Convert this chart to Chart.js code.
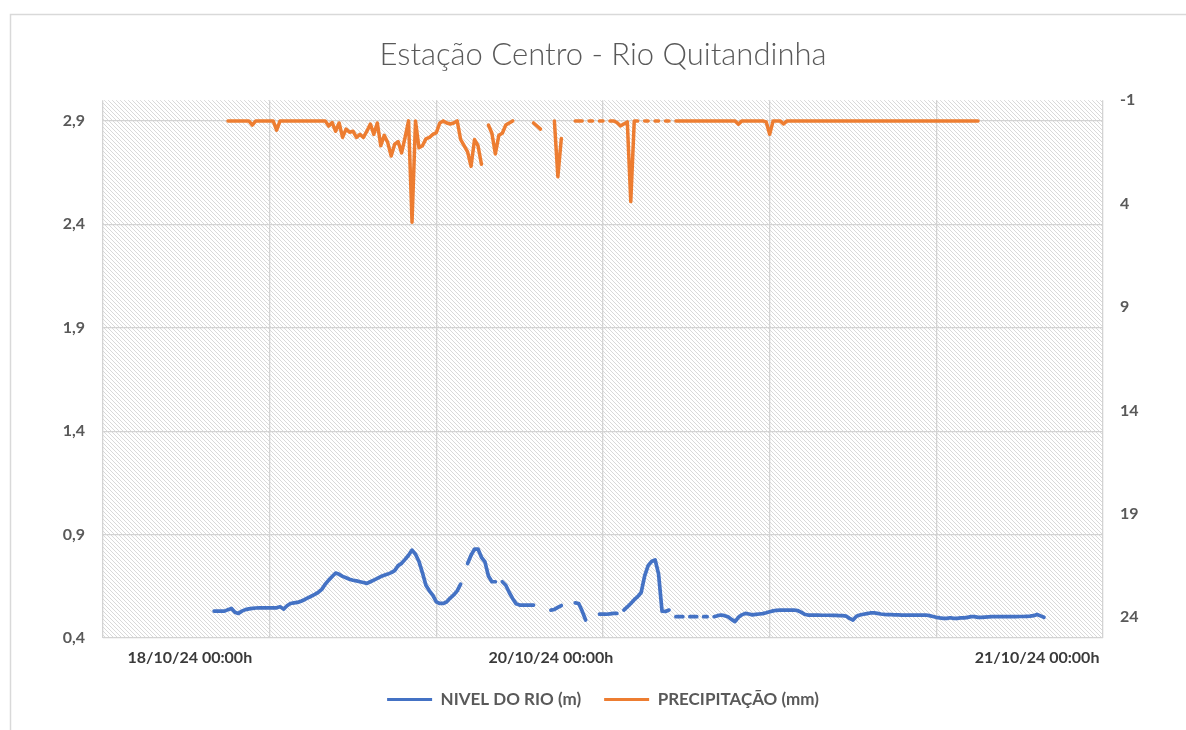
<!DOCTYPE html>
<html><head><meta charset="utf-8">
<script src="https://cdn.jsdelivr.net/npm/chart.js@4.4.1/dist/chart.umd.min.js"></script>
<style>html,body{margin:0;padding:0;background:#fff;}</style>
</head><body>
<canvas id="c" width="1186" height="730"></canvas>
<script>
// ---- data ----
const titleText = 'Estação Centro - Rio Quitandinha';
const seriesNames = ['NIVEL DO RIO (m)', 'PRECIPITAÇÃO (mm)'];
const xTickPositions = [25, 129, 269];
const xTickLabels = ['18/10/24 00:00h', '20/10/24 00:00h', '21/10/24 00:00h'];
const xGridPositions = [0, 48, 96, 144, 192, 240, 288];
const levelTicks = [0.4, 0.9, 1.4, 1.9, 2.4, 2.9];
const rainTicks = [-1, 4, 9, 14, 19, 24];

const levelStart = 32;
const level = [
  0.530,0.530,0.530,0.530,0.537,0.543,0.525,0.519,0.530,0.537,
  0.541,0.543,0.545,0.546,0.546,0.546,0.546,0.546,0.546,0.551,
  0.540,0.556,0.567,0.570,0.572,0.578,0.585,0.594,0.602,0.611,
  0.621,0.635,0.660,0.680,0.697,0.714,0.708,0.698,0.691,0.684,
  0.679,0.676,0.672,0.668,0.664,0.672,0.680,0.688,0.697,0.703,
  0.709,0.716,0.726,0.750,0.761,0.780,0.800,0.825,0.805,0.770,
  0.715,0.655,0.628,0.606,0.575,0.567,0.567,0.575,0.593,0.608,
  0.628,0.660,null,0.760,0.800,0.830,0.830,0.790,0.768,0.700,
  0.672,0.672,null,0.672,0.655,0.620,0.590,0.565,0.559,0.559,
  0.559,0.559,0.559,null,null,null,null,0.535,0.538,0.548,
  0.557,null,null,null,0.570,0.567,0.530,0.487,null,null,
  null,0.515,0.515,0.515,0.517,0.519,0.519,null,0.535,0.550,
  0.567,0.585,0.600,0.620,0.700,0.750,0.770,0.778,0.710,0.530,
  0.528,0.535,null,0.503,0.503,0.503,null,0.503,0.503,0.503,
  null,0.503,0.503,null,0.503,0.508,0.511,0.508,0.503,0.490,
  0.479,0.500,0.512,0.519,0.516,0.512,0.514,0.516,0.518,0.522,
  0.527,0.531,0.534,0.535,0.535,0.535,0.535,0.535,0.533,0.525,
  0.515,0.511,0.511,0.511,0.511,0.510,0.510,0.510,0.509,0.509,
  0.508,0.508,0.506,0.495,0.487,0.505,0.511,0.515,0.518,0.521,
  0.522,0.519,0.516,0.514,0.513,0.513,0.512,0.512,0.511,0.511,
  0.511,0.511,0.511,0.511,0.511,0.511,0.508,0.504,0.500,0.497,
  0.495,0.495,0.498,0.495,0.495,0.497,0.497,0.500,0.503,0.503,
  0.500,0.500,0.501,0.502,0.503,0.503,0.503,0.503,0.503,0.503,
  0.503,0.503,0.504,0.504,0.505,0.506,0.508,0.514,0.507,0.500
];

const rainStart = 36;
const rain = [
  0,0,0,0,0,0,0,0.2,0,0,
  0,0,0,0,0.45,0,0,0,0,0,
  0,0,0,0,0,0,0,0,0,0.25,
  0.08,0.5,0.1,0.8,0.4,0.55,0.5,0.8,0.65,0.8,
  0.5,0.15,0.65,0.1,1.2,0.7,1.05,1.7,1.13,1.0,
  1.55,0.8,0,4.9,0,1.3,1.2,0.87,0.8,0.65,
  0.57,0.1,0,0.1,0.15,0.1,0,0.9,1.2,1.5,
  2.2,0.9,1.2,2.1,null,0.2,0.6,1.6,0.7,0.6,
  0.2,0.1,0,null,null,null,null,null,0.1,0.25,
  0.4,null,null,null,0,2.7,0.85,null,null,null,
  0,0,0,null,0,0,null,0,0,null,
  0,0,0.08,0.24,0.15,0.05,3.9,0,0,null,
  0,0,null,0,0,null,0,0,null,0,
  0,0,0,0,0,0,0,0,0,0,
  0,0,0,0,0,0,0,0.16,0,0,
  0,0,0,0,0,0.05,0.65,0,0,0,
  0.15,0,0,0,0,0,0,0,0,0,
  0,0,0,0,0,0,0,0,0,0,
  0,0,0,0,0,0,0,0,0,0,
  0,0,0,0,0,0,0,0,0,0,
  0,0,0,0,0,0,0,0,0,0,
  0,0,0,0,0,0,0
];

// ---- styling ----
const gridColor = '#d3d3d3';
const blue = '#4472C4';
const orange = '#ED7D31';
const FONT = 'Lato, "Open Sans", sans-serif';

const toPoints = (start, arr) => arr.map((v, i) => ({ x: start + i, y: v }));

const hatch = (() => {
  const c = document.createElement('canvas');
  c.width = 4; c.height = 4;
  const g = c.getContext('2d');
  g.fillStyle = '#ffffff'; g.fillRect(0, 0, 4, 4);
  g.fillStyle = '#d9d9d9';
  for (let i = 0; i < 4; i++) g.fillRect(i, i, 1, 1);
  return c;
})();

const bgPlugin = {
  id: 'bg',
  beforeDraw(chart) {
    const { ctx, chartArea: a } = chart;
    ctx.save();
    ctx.fillStyle = '#ffffff';
    ctx.fillRect(0, 0, chart.width, chart.height);
    ctx.strokeStyle = '#d9d9d9';
    ctx.lineWidth = 1.5;
    ctx.strokeRect(10.5, 14.5, 1400, 900);
    ctx.fillStyle = ctx.createPattern(hatch, 'repeat');
    ctx.fillRect(a.left, a.top, a.right - a.left, a.bottom - a.top);
    ctx.restore();
  }
};

new Chart(document.getElementById('c'), {
  type: 'line',
  data: {
    datasets: [
      {
        label: seriesNames[0], data: toPoints(levelStart, level), yAxisID: 'y',
        borderColor: blue, backgroundColor: blue, borderWidth: 3.7,
        pointRadius: 0, spanGaps: false, tension: 0,
        borderCapStyle: 'round', borderJoinStyle: 'round'
      },
      {
        label: seriesNames[1], data: toPoints(rainStart, rain), yAxisID: 'y2',
        borderColor: orange, backgroundColor: orange, borderWidth: 3.5,
        pointRadius: 0, spanGaps: false, tension: 0,
        borderCapStyle: 'round', borderJoinStyle: 'round'
      }
    ]
  },
  options: {
    responsive: false, animation: false, devicePixelRatio: 1,
    layout: { padding: { left: 20, right: 0, top: 0, bottom: 12 } },
    plugins: {
      title: {
        display: true, text: titleText, color: '#595959',
        font: { family: FONT, size: 31, weight: 300 },
        padding: { top: 36, bottom: 27 }
      },
      legend: {
        position: 'bottom',
        labels: {
          color: '#595959', font: { family: FONT, size: 17, weight: 'bold' },
          boxWidth: 45, boxHeight: 3, padding: 23,
          generateLabels: (chart) => Chart.defaults.plugins.legend.labels.generateLabels(chart)
            .map(l => Object.assign(l, { lineWidth: 0 }))
        }
      },
      tooltip: { enabled: false }
    },
    scales: {
      x: {
        type: 'linear', min: 0, max: 288,
        afterBuildTicks: s => {
          s.ticks = [...new Set([...xGridPositions, ...xTickPositions])]
            .sort((a, b) => a - b).map(v => ({ value: v }));
        },
        afterFit: s => { s.height = 30; },
        ticks: {
          autoSkip: false, maxRotation: 0, minRotation: 0, padding: 10,
          color: '#3a3a3a', font: { family: FONT, size: 16, weight: 'bold' },
          callback: v => { const k = xTickPositions.indexOf(v); return k >= 0 ? xTickLabels[k] : ''; }
        },
        grid: {
          drawTicks: false, lineWidth: 1.3,
          color: c => (c.tick && xGridPositions.includes(c.tick.value)) ? gridColor : 'rgba(0,0,0,0)'
        },
        border: { display: false }
      },
      y: {
        type: 'linear', position: 'left', min: 0.4, max: 3.0,
        afterBuildTicks: s => { s.ticks = levelTicks.map(v => ({ value: v })); },
        afterFit: s => { s.width = 83; },
        ticks: {
          padding: 18, color: '#595959', font: { family: FONT, size: 16, weight: 'bold' },
          callback: v => v.toFixed(1).replace('.', ',')
        },
        grid: { drawTicks: false, color: gridColor, lineWidth: 1.3 },
        border: { display: false }
      },
      y2: {
        type: 'linear', position: 'right', reverse: true, min: -1, max: 25,
        afterBuildTicks: s => { s.ticks = rainTicks.map(v => ({ value: v })); },
        afterFit: s => { s.width = 83; },
        ticks: {
          padding: 17, color: '#595959', font: { family: FONT, size: 16, weight: 'bold' },
          callback: v => String(v)
        },
        grid: { display: false, drawTicks: false },
        border: { display: false }
      }
    }
  },
  plugins: [bgPlugin]
});
</script>
</body></html>
